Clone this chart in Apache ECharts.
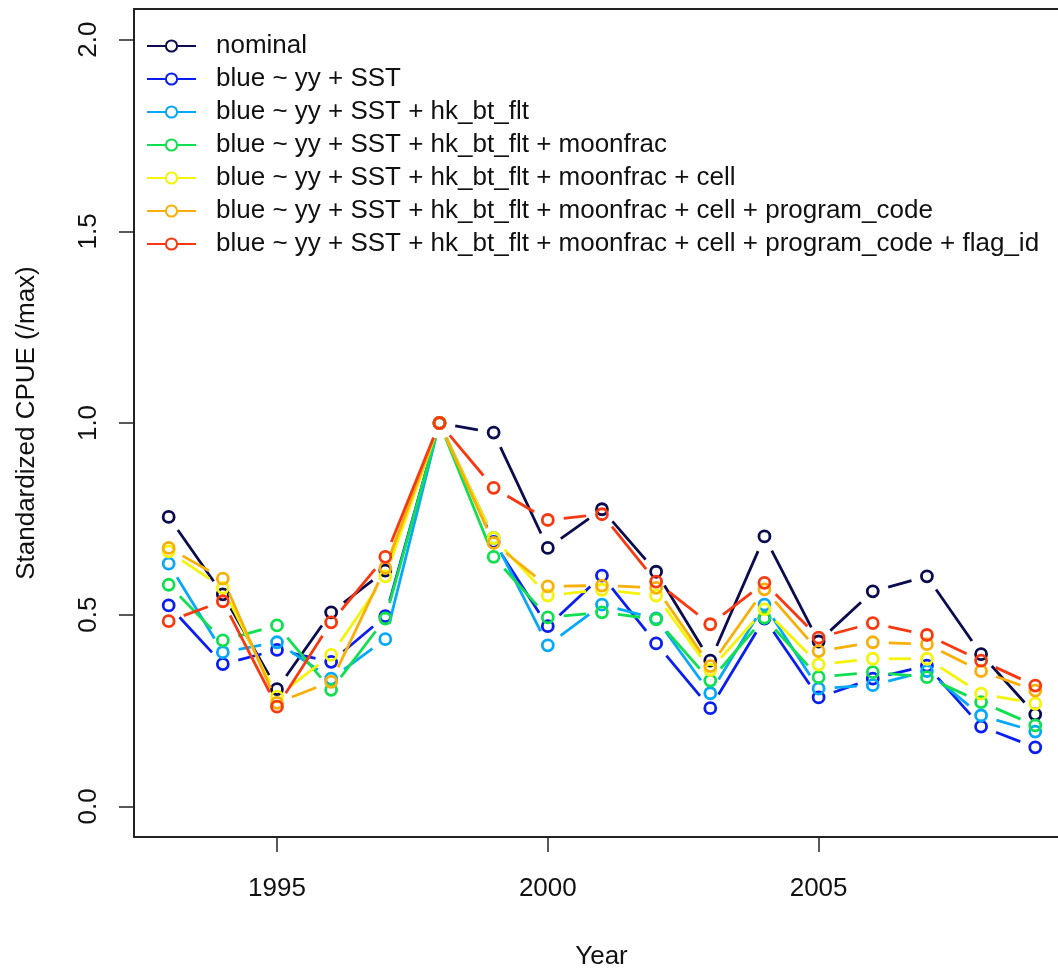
<!DOCTYPE html>
<html>
<head>
<meta charset="utf-8">
<script src="https://cdn.jsdelivr.net/npm/echarts@6/dist/echarts.min.js"></script>
<style>
html,body{margin:0;padding:0;background:#fff;overflow:hidden;}
#chart{width:1058px;height:975px;}
</style>
</head>
<body>
<div id="chart"></div>
<script>
// ---- data ----
const years = [1993,1994,1995,1996,1997,1998,1999,2000,2001,2002,2003,2004,2005,2006,2007,2008,2009];
const seriesNames = [
  "nominal",
  "blue ~ yy + SST",
  "blue ~ yy + SST + hk_bt_flt",
  "blue ~ yy + SST + hk_bt_flt + moonfrac",
  "blue ~ yy + SST + hk_bt_flt + moonfrac + cell",
  "blue ~ yy + SST + hk_bt_flt + moonfrac + cell + program_code",
  "blue ~ yy + SST + hk_bt_flt + moonfrac + cell + program_code + flag_id"
];
const nominal = [0.755,0.553,0.306,0.506,0.615,1.0,0.975,0.674,0.775,0.612,0.380,0.704,0.430,0.561,0.600,0.397,0.240];
const mSST    = [0.524,0.371,0.408,0.377,0.496,1.0,0.690,0.470,0.602,0.425,0.256,0.490,0.284,0.333,0.367,0.208,0.154];
const mHook   = [0.633,0.402,0.428,0.333,0.436,1.0,0.700,0.420,0.526,0.490,0.295,0.526,0.307,0.316,0.353,0.237,0.195];
const mMoon   = [0.578,0.433,0.472,0.304,0.490,1.0,0.651,0.493,0.506,0.488,0.328,0.492,0.337,0.350,0.337,0.272,0.211];
const mCell   = [0.665,0.570,0.286,0.395,0.600,1.0,0.700,0.550,0.565,0.550,0.356,0.514,0.370,0.385,0.385,0.294,0.268];
const mProg   = [0.674,0.594,0.270,0.325,0.622,1.0,0.687,0.574,0.576,0.570,0.366,0.566,0.405,0.428,0.423,0.353,0.302];
const mFlag   = [0.483,0.535,0.260,0.480,0.651,1.0,0.831,0.747,0.762,0.586,0.475,0.583,0.440,0.478,0.447,0.380,0.315];
const xTicks = [1995,2000,2005];
const yTicks = [0.0,0.5,1.0,1.5,2.0];

const allValues = [nominal,mSST,mHook,mMoon,mCell,mProg,mFlag];
const colors = ["#0b0b4f","#0a1ef0","#08a8f8","#10e050","#f4f40a","#f8b008","#f83810"];

const FONT = "'Liberation Sans', Arial, sans-serif";
const GAP = 16;
const LW = 2.8;
// x range: R-style 4% padding around 1993..2009, cut at the right window edge
const X_MIN = 1992.36, X_MAX = 2009.42;

const series = [];
// dummy line series for legend icons
seriesNames.forEach((n,k)=>{
  series.push({
    type:'line', name:n, data:[], symbol:'circle', symbolSize:9,
    lineStyle:{color:colors[k], width:LW},
    itemStyle:{color:'#ffffff', borderColor:colors[k], borderWidth:LW}
  });
});
allValues.forEach((vals,k)=>{
  const segs = [];
  for (let i=0;i<years.length-1;i++) segs.push([years[i],vals[i],years[i+1],vals[i+1]]);
  const col = colors[k];
  series.push({
    type:'custom', name:seriesNames[k], data:segs, z:2+k,
    encode:{x:[0,2], y:[1,3]},
    renderItem:function(params, api){
      const p0 = api.coord([api.value(0), api.value(1)]);
      const p1 = api.coord([api.value(2), api.value(3)]);
      const dx=p1[0]-p0[0], dy=p1[1]-p0[1];
      const L=Math.hypot(dx,dy);
      if (L <= 2*GAP) return null;
      const ux=dx/L, uy=dy/L;
      return {type:'line', shape:{x1:p0[0]+ux*GAP, y1:p0[1]+uy*GAP, x2:p1[0]-ux*GAP, y2:p1[1]-uy*GAP},
              style:{stroke:col, lineWidth:LW, lineCap:'butt'}};
    }
  });
  series.push({
    type:'scatter', name:seriesNames[k], z:2+k,
    data: years.map((y,i)=>[y, vals[i]]),
    symbol:'circle', symbolSize:11,
    itemStyle:{color:'rgba(0,0,0,0)', borderColor:col, borderWidth:LW, opacity:1}
  });
});

const chart = echarts.init(document.getElementById('chart'), null, {renderer:'canvas'});
chart.setOption({
  animation:false,
  backgroundColor:'#ffffff',
  textStyle:{fontFamily:FONT},
  grid:{left:134, top:9, right:0, bottom:130, show:false},
  legend:{
    orient:'vertical', left:141, top:28, itemWidth:49, itemHeight:14, itemGap:7,
    data:seriesNames,
    textStyle:{fontFamily:FONT, fontSize:26, color:'#111', padding:[0,0,0,15], lineHeight:26},
    selectedMode:false
  },
  xAxis:[{
    type:'value', min:X_MIN, max:X_MAX, position:'bottom',
    name:'Year', nameLocation:'middle', nameGap:107,
    nameTextStyle:{fontFamily:FONT, fontSize:26, color:'#111', padding:[0,0,0,11]},
    axisLine:{show:true, onZero:false, lineStyle:{color:'#222', width:2}},
    axisTick:{show:true, length:15, customValues:xTicks, lineStyle:{color:'#222', width:1.5}},
    axisLabel:{customValues:xTicks, margin:39, fontFamily:FONT, fontSize:26, color:'#111', formatter:(v)=>String(v)},
    splitLine:{show:false}
  },{
    type:'value', min:X_MIN, max:X_MAX, position:'top',
    axisLine:{show:true, onZero:false, lineStyle:{color:'#222', width:2}},
    axisTick:{show:false}, axisLabel:{show:false}, splitLine:{show:false}
  }],
  yAxis:{
    type:'value', min:-0.08, max:2.08,
    name:'Standardized CPUE (/max)', nameLocation:'middle', nameGap:94,
    nameTextStyle:{fontFamily:FONT, fontSize:26, color:'#111'},
    axisLine:{show:true, onZero:false, lineStyle:{color:'#222', width:2}},
    axisTick:{show:true, length:15, customValues:yTicks, lineStyle:{color:'#222', width:1.5}},
    axisLabel:{customValues:yTicks, rotate:90, margin:32, fontFamily:FONT, fontSize:26, color:'#111', formatter:(v)=>v.toFixed(1)},
    splitLine:{show:false}
  },
  series:series
});
</script>
</body>
</html>
